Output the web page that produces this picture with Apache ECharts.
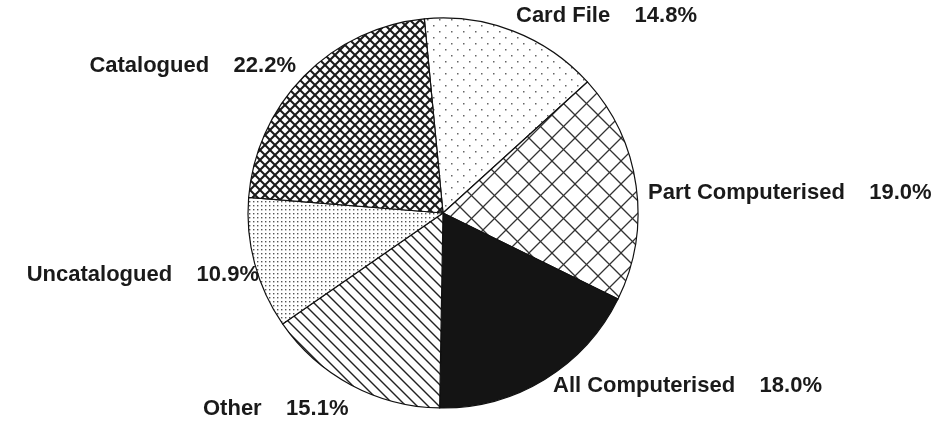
<!DOCTYPE html>
<html>
<head>
<meta charset="utf-8">
<script src="https://cdn.jsdelivr.net/npm/echarts@6/dist/echarts.min.js"></script>
<style>
html,body{margin:0;padding:0;background:#fff;}
#chart{width:948px;height:421px;}
</style>
</head>
<body>
<div id="chart"></div>
<script>
// ---- data ----
const categories = ['Card File', 'Part Computerised', 'All Computerised', 'Other', 'Uncatalogued', 'Catalogued'];
const values = [14.8, 19.0, 18.0, 15.1, 10.9, 22.2];

// ---- label placement (anchor x, centre y, alignment) ----
const labelPlace = [
  {x: 516, y: 16, align: 'left'},
  {x: 648, y: 193, align: 'left'},
  {x: 553, y: 386, align: 'left'},
  {x: 203, y: 409, align: 'left'},
  {x: 259, y: 275, align: 'right'},
  {x: 296, y: 66, align: 'right'}
];

// ---- pattern helpers ----
function hatch(p, lw, color, dirs) {
  const c = document.createElement('canvas');
  c.width = p; c.height = p;
  const g = c.getContext('2d');
  g.fillStyle = '#fff'; g.fillRect(0, 0, p, p);
  g.strokeStyle = color; g.lineWidth = lw; g.lineCap = 'square';
  for (const d of dirs) {
    for (let k = -1; k <= 1; k++) {
      g.beginPath();
      if (d === '\\') { g.moveTo(k * p, 0); g.lineTo(k * p + p, p); }
      else { g.moveTo(k * p + p, 0); g.lineTo(k * p, p); }
      g.stroke();
    }
  }
  return c;
}
function dots(s, r, color, stagger) {
  const c = document.createElement('canvas');
  c.width = s; c.height = s;
  const g = c.getContext('2d');
  g.fillStyle = '#fff'; g.fillRect(0, 0, s, s);
  g.fillStyle = color;
  g.fillRect(1, 1, r, r);
  if (stagger) g.fillRect(1 + s / 2, 1 + s / 2, r, r);
  return c;
}
const fills = [
  {image: dots(12, 1.5, '#666', true), repeat: 'repeat'},          // Card File
  {image: hatch(23, 1.3, '#333', ['\\', '/']), repeat: 'repeat'},  // Part Computerised
  '#141414',                                                         // All Computerised
  {image: hatch(11, 1.4, '#222', ['\\']), repeat: 'repeat'},        // Other
  {image: dots(4, 1.4, '#555', false), repeat: 'repeat'},            // Uncatalogued
  {image: hatch(10, 2, '#1a1a1a', ['\\', '/']), repeat: 'repeat'}    // Catalogued
];

const chart = echarts.init(document.getElementById('chart'), null, {renderer: 'canvas'});
chart.setOption({
  backgroundColor: '#fff',
  animation: false,
  series: [{
    type: 'pie',
    center: [443, 213],
    radius: 195,
    startAngle: 95.5,
    clockwise: true,
    avoidLabelOverlap: false,
    data: categories.map((n, i) => ({name: n, value: values[i], itemStyle: {color: fills[i]}})),
    itemStyle: {borderColor: '#111', borderWidth: 1.2},
    label: {
      show: true,
      position: 'outside',
      formatter: p => p.name + '    ' + values[p.dataIndex].toFixed(1) + '%',
      fontFamily: 'Liberation Sans, Arial, sans-serif',
      fontSize: 22,
      fontWeight: 'bold',
      color: '#1a1a1a'
    },
    labelLine: {show: false},
    labelLayout: p => {
      const lp = labelPlace[p.dataIndex];
      return {x: lp.x, y: lp.y, align: lp.align, verticalAlign: 'middle'};
    },
    emphasis: {disabled: true}
  }]
});
</script>
</body>
</html>
